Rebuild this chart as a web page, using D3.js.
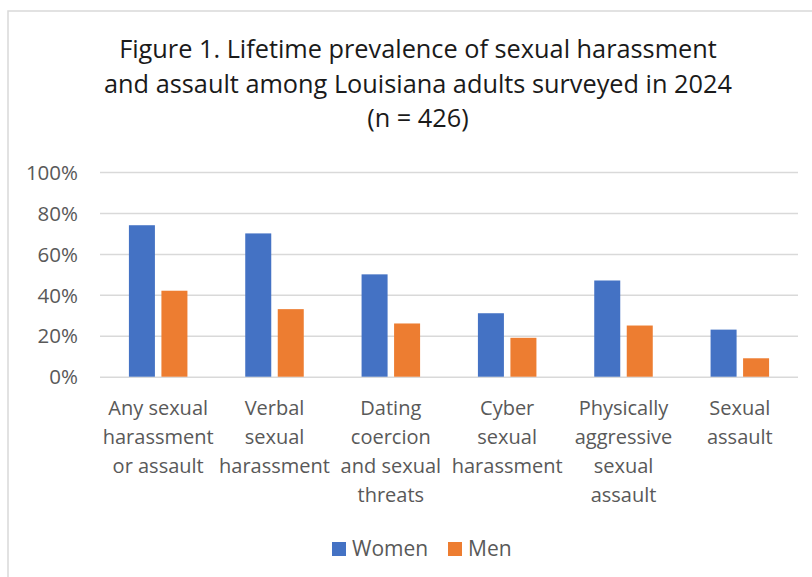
<!DOCTYPE html>
<html><head><meta charset="utf-8">
<script src="https://cdn.jsdelivr.net/npm/d3@7"></script>
<style>
body{margin:0;background:#fff;}
text{font-family:"Open Sans",Carlito,Calibri,sans-serif;}
</style></head>
<body><svg id="c" width="812" height="577"></svg>
<script>
const categories = ["Any sexual harassment or assault","Verbal sexual harassment","Dating coercion and sexual threats","Cyber sexual harassment","Physically aggressive sexual assault","Sexual assault"];
const categoryLines = [["Any sexual","harassment","or assault"],["Verbal","sexual","harassment"],["Dating","coercion","and sexual","threats"],["Cyber","sexual","harassment"],["Physically","aggressive","sexual","assault"],["Sexual","assault"]];
const seriesNames = ["Women","Men"];
const women = [0.74,0.70,0.50,0.31,0.47,0.23];
const men = [0.42,0.33,0.26,0.19,0.25,0.09];
const yTicks = [0,0.2,0.4,0.6,0.8,1.0];
const titleLines = ["Figure 1. Lifetime prevalence of sexual harassment","and assault among Louisiana adults surveyed in 2024","(n = 426)"];
const colors = ["#4472C4","#ED7D31"];

const svg = d3.select("#c");
svg.append("rect").attr("x",8).attr("y",11).attr("width",820).attr("height",600)
  .attr("fill","#fff").attr("stroke","#d9d9d9").attr("stroke-width",1.5);

const x0 = 100, x1 = 798, yTop = 172, yBot = 376.7;
const y = d3.scaleLinear().domain([0,1]).range([yBot,yTop]);
const xc = d3.scaleBand().domain(categories).range([x0,x1]).paddingInner(0.497).paddingOuter(0.2485);
const xs = d3.scaleBand().domain(seriesNames).range([0,xc.bandwidth()]).paddingInner(0.2).paddingOuter(0);

// gridlines
const yAxis = d3.axisLeft(y).tickValues(yTicks).tickFormat(d3.format(".0%")).tickSize(-(x1-x0)).tickPadding(22);
const ga = svg.append("g").attr("transform",`translate(${x0},0)`).call(yAxis);
ga.select(".domain").remove();
ga.selectAll(".tick line").attr("stroke","#d9d9d9").attr("stroke-width",1.5);
ga.selectAll(".tick text").attr("fill","#595959").style("font-size","20.5px").attr("dy","0.35em");

// bars
const data = categories.map((c,i)=>({c, vals:[women[i],men[i]]}));
const g = svg.append("g");
data.forEach(d=>{
  d.vals.forEach((v,j)=>{
    g.append("rect")
      .attr("x", xc(d.c)+xs(seriesNames[j]))
      .attr("y", y(v))
      .attr("width", xs.bandwidth())
      .attr("height", y(0)-y(v))
      .attr("fill", colors[j]);
  });
});

// category labels
categories.forEach((c,i)=>{
  const cx = xc(c)+xc.bandwidth()/2;
  const t = svg.append("text").attr("text-anchor","middle").attr("fill","#595959").style("font-size","20px");
  categoryLines[i].forEach((ln,k)=>{
    t.append("tspan").attr("x",cx).attr("y",415+k*29).text(ln);
  });
});

// title
const tt = svg.append("text").attr("text-anchor","middle").attr("fill","#1a1a1a").style("font-size","25.3px");
titleLines.forEach((ln,k)=>tt.append("tspan").attr("x",418).attr("y",58+k*34.5).text(ln));

// legend
const legX = [332,448];
seriesNames.forEach((s,j)=>{
  svg.append("rect").attr("x",legX[j]).attr("y",542).attr("width",14).attr("height",14).attr("fill",colors[j]);
  svg.append("text").attr("x",legX[j]+20).attr("y",556).attr("fill","#595959").style("font-size","21px").text(s);
});
</script></body></html>
